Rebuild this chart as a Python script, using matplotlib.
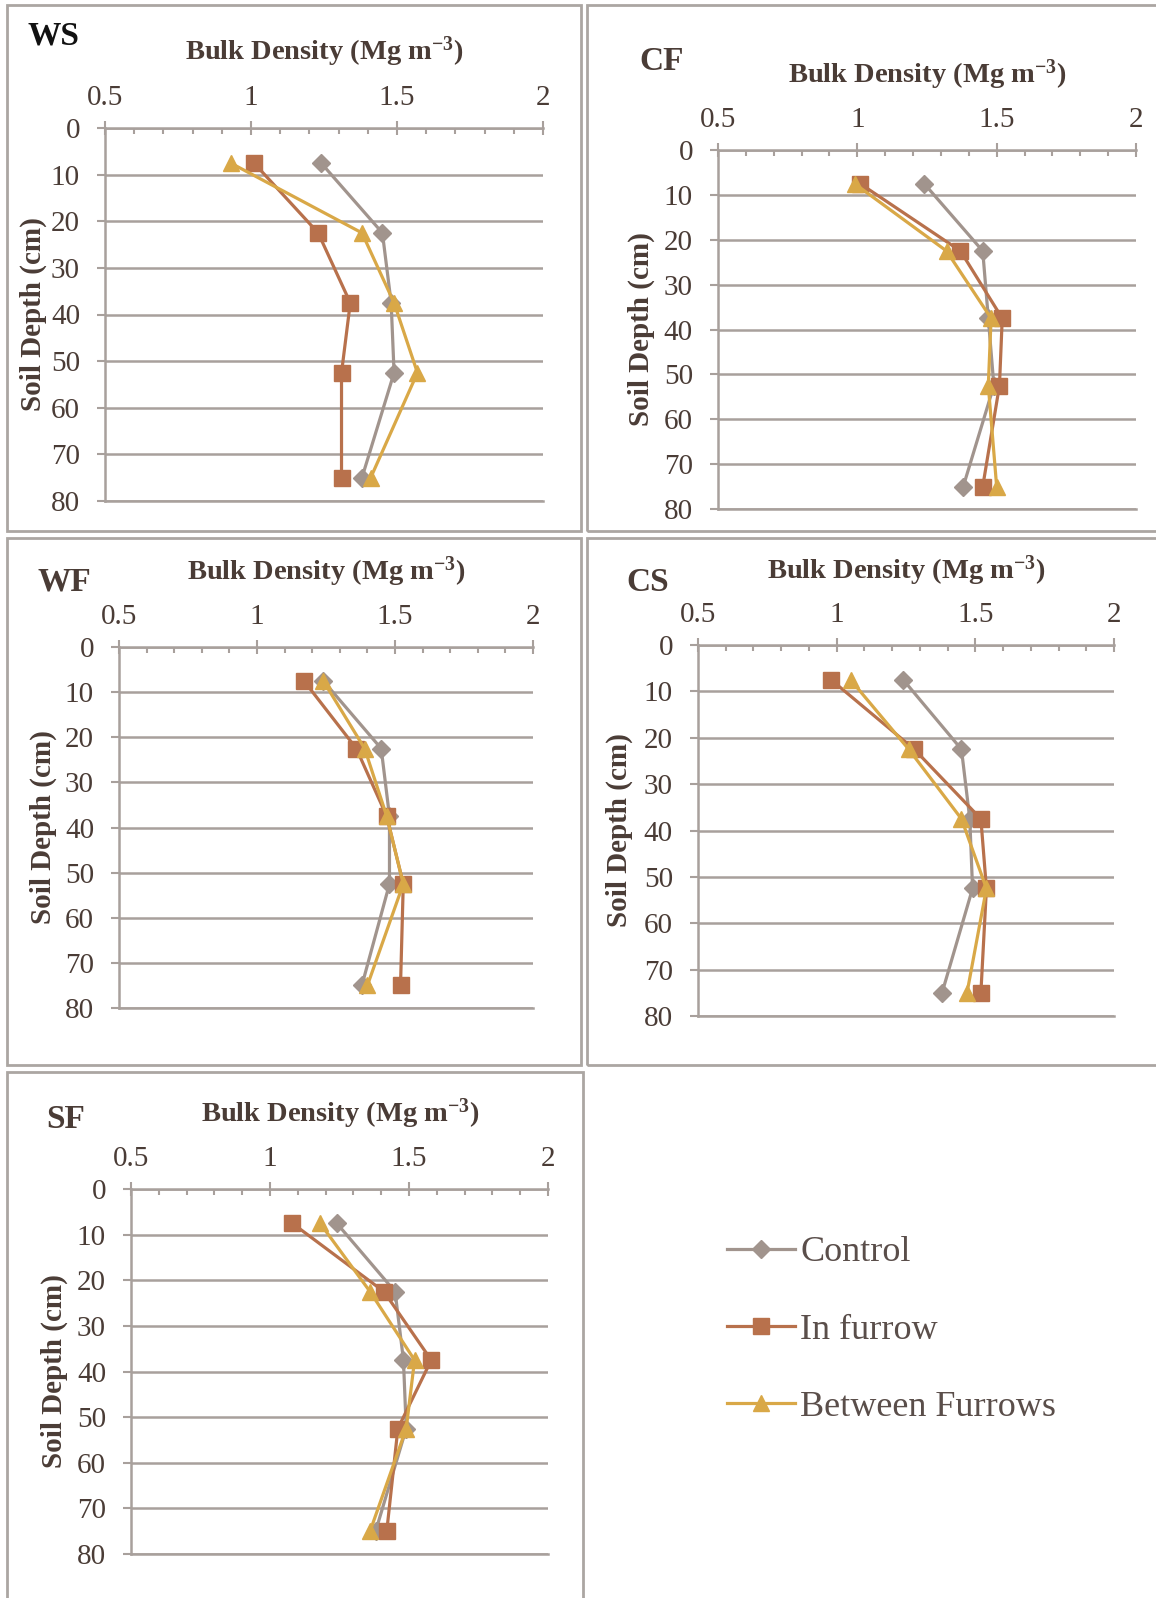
import matplotlib
matplotlib.use("Agg")
import matplotlib.pyplot as plt
from matplotlib.patches import Rectangle
from matplotlib.ticker import MultipleLocator

plt.rcParams["font.family"] = ["Liberation Serif", "DejaVu Serif"]
plt.rcParams["mathtext.fontset"] = "custom"
plt.rcParams["mathtext.rm"] = "Liberation Serif"
plt.rcParams["mathtext.it"] = "Liberation Serif"
plt.rcParams["mathtext.bf"] = "Liberation Serif:bold"

# soil depth of each sample (cm)
depth = [7.5, 22.5, 37.5, 52.5, 75]
series_names = ["Control", "In furrow", "Between Furrows"]

# bulk density (Mg m-3)
ws_control = [1.24, 1.45, 1.48, 1.49, 1.38]
ws_furrow = [1.01, 1.23, 1.34, 1.31, 1.31]
ws_between = [0.93, 1.38, 1.49, 1.57, 1.41]

cf_control = [1.24, 1.45, 1.47, 1.49, 1.38]
cf_furrow = [1.01, 1.37, 1.52, 1.51, 1.45]
cf_between = [0.99, 1.32, 1.48, 1.47, 1.50]

wf_control = [1.24, 1.45, 1.48, 1.48, 1.38]
wf_furrow = [1.17, 1.36, 1.47, 1.53, 1.52]
wf_between = [1.24, 1.39, 1.47, 1.53, 1.40]

cs_control = [1.24, 1.45, 1.48, 1.49, 1.38]
cs_furrow = [0.98, 1.28, 1.52, 1.54, 1.52]
cs_between = [1.05, 1.26, 1.45, 1.54, 1.47]

sf_control = [1.24, 1.45, 1.48, 1.49, 1.38]
sf_furrow = [1.08, 1.41, 1.58, 1.46, 1.42]
sf_between = [1.18, 1.36, 1.52, 1.49, 1.36]

colors = ["#A1948D", "#B8714C", "#D9A847"]
markers = ["D", "s", "^"]
msizes = [9, 11, 12]
grid_col = "#A8A09C"
text_col = "#4A3C36"

W, H = 1156, 1598
fig = plt.figure(figsize=(W / 100, H / 100), dpi=100)


def fx(px):
    return px / W


def fy(py):
    return 1 - py / H


# name, axes box (px), letter pos, title pos, ylabel x, panel frame, data
panels = [
    ("WS", (105, 128, 543, 501), (28, 36), (324, 52), 33, (7, 5, 581, 531),
     [ws_control, ws_furrow, ws_between]),
    ("CF", (718, 150, 1136, 509), (639, 62), (927, 75), 641, (587, 5, 1180, 531),
     [cf_control, cf_furrow, cf_between]),
    ("WF", (119, 647, 533, 1008), (37, 582), (326, 572), 43, (7, 538, 581, 1065),
     [wf_control, wf_furrow, wf_between]),
    ("CS", (698, 645, 1114, 1016), (626, 582), (906, 571), 619, (587, 538, 1180, 1065),
     [cs_control, cs_furrow, cs_between]),
    ("SF", (131, 1189, 548, 1554), (46, 1120), (340, 1114), 54, (7, 1072, 583, 1620),
     [sf_control, sf_furrow, sf_between]),
]

for name, box, lpos, tpos, ylx, frame, data in panels:
    x0, y0, x1, y1 = frame
    fig.patches.append(Rectangle((fx(x0), fy(y1)), fx(x1 - x0), (y1 - y0) / H,
                                 transform=fig.transFigure, fill=False,
                                 edgecolor="#ABA6A2", lw=2))
    a0, b0, a1, b1 = box
    ax = fig.add_axes([fx(a0), fy(b1), fx(a1 - a0), (b1 - b0) / H])
    for vals, c, m, ms, lab in zip(data, colors, markers, msizes, series_names):
        ax.plot(vals, depth, color=c, marker=m, markersize=ms, lw=2.3, label=lab,
                clip_on=False)
    ax.set_xlim(0.5, 2)
    ax.set_ylim(80, 0)
    ax.xaxis.set_minor_locator(MultipleLocator(0.1))
    ax.yaxis.set_major_locator(MultipleLocator(10))
    ax.set_xticks([0.5, 1, 1.5, 2])
    ax.set_xticklabels(["0.5", "1", "1.5", "2"])
    ax.xaxis.tick_top()
    ax.tick_params(axis="x", which="major", direction="inout", length=10, width=1.5,
                   color=grid_col, labelsize=21, labelcolor=text_col, pad=7)
    ax.tick_params(axis="x", which="minor", direction="in", length=4, width=1.5,
                   color=grid_col)
    ax.tick_params(axis="y", direction="out", length=6, width=1.5, color=grid_col,
                   labelsize=21, labelcolor=text_col, pad=12)
    ax.grid(axis="y", color=grid_col, lw=1.8)
    ax.set_axisbelow(True)
    ax.spines["right"].set_visible(False)
    for s in ["top", "left", "bottom"]:
        ax.spines[s].set_color(grid_col)
        ax.spines[s].set_linewidth(1.8)
    ax.set_facecolor("none")

    fig.text(fx(lpos[0]), fy(lpos[1]), name, ha="left", va="center", fontsize=24,
             fontweight="bold", color="#111111" if name == "WS" else text_col)
    fig.text(fx(tpos[0]), fy(tpos[1]), r"Bulk Density (Mg m$^{\mathbf{-3}}$)",
             ha="center", va="center", fontsize=20.5, fontweight="bold", color=text_col)
    fig.text(fx(ylx), fy((b0 + b1) / 2), "Soil Depth (cm)", rotation=90,
             ha="center", va="center", fontsize=21, fontweight="bold", color=text_col)

handles, labels = ax.get_legend_handles_labels()
leg = fig.legend(handles, labels, loc="center left",
                 bbox_to_anchor=(fx(727), fy(1330)), frameon=False, fontsize=26,
                 handlelength=1.88, handletextpad=0.15, labelspacing=1.22,
                 borderaxespad=0, borderpad=0)
for t in leg.get_texts():
    t.set_color("#5A4E4A")

fig.savefig("out.png", dpi=100)
